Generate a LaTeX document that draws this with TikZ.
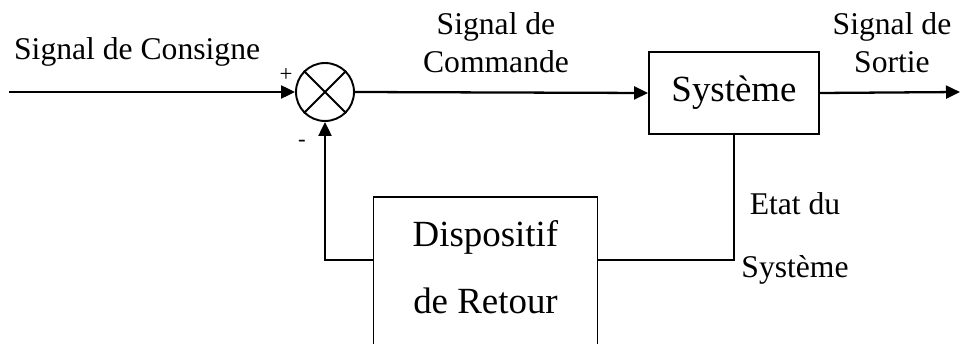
\documentclass[tikz,border=0pt]{standalone}
\usepackage{fontspec}
\setmainfont{Liberation Serif}
\usetikzlibrary{positioning,arrows.meta}

\begin{document}
\begin{tikzpicture}[
  x=0.02cm, y=-0.02cm,
  >={Triangle[length=0.28cm,width=0.26cm]},
  line width=1.3pt,
  box/.style={draw,line width=1.1pt,font=\fontsize{21}{25}\selectfont,align=center},
  lbl/.style={font=\fontsize{18}{22}\selectfont,align=center,inner sep=0pt},
  sgn/.style={font=\fontsize{13}{15}\selectfont,inner sep=0pt}
]
\clip (0,0) rectangle (961,344);
\coordinate (in) at (9,92);
\coordinate (out) at (960,92);
\coordinate (fb) at (734,260);
\node[draw,circle,minimum size=1.16cm,inner sep=0pt,line width=1.1pt] (sum) at (325,92) {};
\draw[line width=1.1pt] (sum.north west) -- (sum.south east) (sum.north east) -- (sum.south west);
\node[box,minimum width=3.4cm,minimum height=1.64cm] (sys) at (734,93) {Système};
\node[box,minimum width=4.48cm,minimum height=4cm,anchor=north] (ret) at (485.5,196) {};
\node[box,draw=none,inner sep=0pt,below=0.48cm of ret.north] (rettxt) {Dispositif\\[13pt]de Retour};
\node[lbl,anchor=base west] (cons) at (13,60) {Signal de Consigne};
\node[lbl,anchor=north] (cmd) at (496,11) {Signal de\\Commande};
\node[lbl,anchor=north] (sort) at (892,11) {Signal de\\Sortie};
\node[lbl,anchor=north] (etat) at (795,191) {Etat du\\[14pt]Système};
\node[sgn] (plus) at (286,75) {+};
\node[sgn] (moins) at (302,143) {-};
\draw[->] (in) -- (sum.west);
\draw[->] (sum.east) -- (sys.west);
\draw[->] (sys.east) -- (out);
\draw (sys.south) -- (fb) -- (ret.east |- fb);
\draw[->] (ret.west |- fb) -| (sum.south);
\end{tikzpicture}
\end{document}
